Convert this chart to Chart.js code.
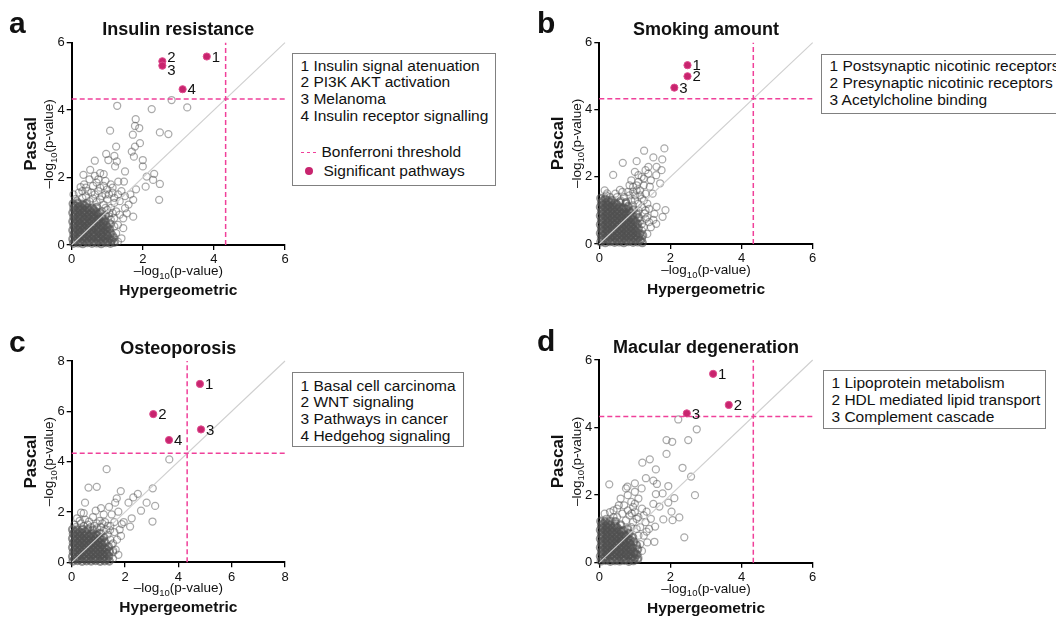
<!DOCTYPE html>
<html>
<head>
<meta charset="utf-8">
<script src="https://cdn.jsdelivr.net/npm/chart.js@4.4.0/dist/chart.umd.min.js"></script>
<style>
  body { margin: 0; background: #fff; width: 1056px; height: 617px; overflow: hidden; position: relative;
         font-family: "Liberation Sans", Arial, sans-serif; color: #111; }
  canvas { position: absolute; }
  .key { position: absolute; border: 1px solid #808080; background: #fff; font-size: 15.5px; box-sizing: border-box; }
  .key div { white-space: nowrap; position: absolute; left: 7.5px; }
  .dash { display: inline-block; width: 15px; height: 1.6px; vertical-align: middle; margin-right: 6px;
          background: repeating-linear-gradient(90deg, #f0409a 0 3.5px, transparent 3.5px 6px); }
  .dot { display: inline-block; width: 8px; height: 8px; border-radius: 50%; background: #c8246e;
         vertical-align: middle; margin: 0 11px 2px 4px; }
</style>
</head>
<body>
<canvas id="chartA" width="528" height="308" style="left:0;top:0"></canvas>
<canvas id="chartB" width="528" height="308" style="left:528px;top:0"></canvas>
<canvas id="chartC" width="528" height="308" style="left:0;top:308px"></canvas>
<canvas id="chartD" width="528" height="308" style="left:528px;top:308px"></canvas>

<div class="key" style="left:292px;top:53px;width:204px;height:133px">
  <div style="top:2.5px">1 Insulin signal atenuation</div>
  <div style="top:19.3px">2 PI3K AKT activation</div>
  <div style="top:36px">3 Melanoma</div>
  <div style="top:52.8px">4 Insulin receptor signalling</div>
  <div style="top:88.5px"><span class="dash"></span>Bonferroni threshold</div>
  <div style="top:107.8px"><span class="dot"></span>Significant pathways</div>
</div>
<div class="key" style="left:821px;top:54px;width:260px;height:60px">
  <div style="top:1.5px">1 Postsynaptic nicotinic receptors</div>
  <div style="top:18.8px">2 Presynaptic nicotinic receptors</div>
  <div style="top:36.3px">3 Acetylcholine binding</div>
</div>
<div class="key" style="left:292px;top:372px;width:172px;height:75px">
  <div style="top:3.5px">1 Basal cell carcinoma</div>
  <div style="top:20.2px">2 WNT signaling</div>
  <div style="top:36.8px">3 Pathways in cancer</div>
  <div style="top:53.5px">4 Hedgehog signaling</div>
</div>
<div class="key" style="left:823px;top:370px;width:223px;height:59px">
  <div style="top:3px">1 Lipoprotein metabolism</div>
  <div style="top:20.3px">2 HDL mediated lipid transport</div>
  <div style="top:37px">3 Complement cascade</div>
</div>

<script>
const FONT = '"Liberation Sans", Arial, sans-serif';

// Bonferroni threshold, -log10(p)
const bonferroni = 4.33;

// a: Insulin resistance
const insulinSig = [[3.8, 5.59], [2.55, 5.45], [2.55, 5.32], [3.12, 4.62]];
const insulinSigLabels = ['1', '2', '3', '4'];
const insulinOther = [
  [2.81, 4.3], [1.28, 4.13], [2.25, 4.03], [3.25, 4.08], [1.8, 3.73], [1.78, 3.53], [1.9, 3.47], [1.08, 3.39],
  [2.48, 3.34], [2.72, 3.29], [1.72, 3.27], [1.92, 3.02], [1.78, 2.92], [1.25, 2.92], [1.69, 2.77], [0.97, 2.7],
  [1.2, 2.64], [1.75, 2.62], [1.03, 2.52], [1.27, 2.48], [2.0, 2.52], [0.65, 2.5], [2.0, 2.33], [1.22, 2.33],
  [1.5, 2.18], [2.32, 2.11], [2.11, 2.03], [2.29, 1.93], [2.48, 1.81], [2.46, 1.34], [2.08, 1.73], [1.81, 1.65],
  [1.73, 1.34], [1.5, 1.09], [1.55, 0.94], [1.73, 0.84], [1.45, 0.79], [1.31, 1.88], [1.47, 1.88], [0.33, 2.08],
  [0.52, 2.23], [0.8, 2.13],
  [0.1, 1.36], [0.3, 1.4], [0.5, 1.3], [0.7, 1.27], [0.9, 1.2], [0.2, 1.55], [0.45, 1.6], [0.65, 1.5], [0.85, 1.45],
  [1.0, 1.35], [0.35, 1.8], [0.6, 1.75], [0.8, 1.7], [1.0, 1.65], [0.5, 1.95], [0.75, 1.95], [0.95, 1.9], [1.1, 1.8],
  [1.15, 1.55], [0.25, 1.72], [0.05, 1.5], [1.1, 1.1], [1.2, 1.25], [0.65, 2.05], [0.9, 2.1], [1.25, 0.35], [1.3, 0.6],
  [1.2, 0.8], [1.35, 0.9], [1.25, 1.0], [1.4, 0.2], [1.3, 0.1], [1.45, 0.5], [1.15, 0.95], [1.05, 0.95], [1.35, 1.3],
  [1.5, 1.45], [1.6, 1.2], [1.4, 1.6], [1.3, 1.5], [1.65, 1.5], [1.2, 1.4],
  [0.15, 1.3], [0.4, 1.45], [0.6, 1.38], [0.8, 1.35], [0.95, 1.5], [0.3, 1.6], [0.55, 1.55], [0.75, 1.6], [0.9, 1.75],
  [1.05, 1.5], [0.4, 1.7], [0.7, 1.85], [1.15, 1.7], [0.85, 1.0], [1.0, 1.05], [1.1, 0.75], [1.2, 0.55], [1.15, 0.3],
  [1.05, 0.85], [0.95, 1.1]
];
const insulinCore = [
  [0.05, 0.05], [0.18, 0.06], [0.31, 0.04], [0.44, 0.07], [0.57, 0.05], [0.7, 0.06], [0.83, 0.04], [0.96, 0.07], [1.09, 0.05], [1.2, 0.08],
  [0.03, 0.18], [0.16, 0.2], [0.29, 0.17], [0.42, 0.19], [0.55, 0.18], [0.68, 0.2], [0.81, 0.17], [0.94, 0.19], [1.07, 0.18], [1.18, 0.22],
  [0.06, 0.31], [0.19, 0.33], [0.32, 0.3], [0.45, 0.32], [0.58, 0.31], [0.71, 0.33], [0.84, 0.3], [0.97, 0.32], [1.1, 0.34],
  [0.03, 0.44], [0.16, 0.46], [0.29, 0.43], [0.42, 0.45], [0.55, 0.44], [0.68, 0.46], [0.81, 0.43], [0.94, 0.45], [1.07, 0.47],
  [0.06, 0.57], [0.19, 0.59], [0.32, 0.56], [0.45, 0.58], [0.58, 0.57], [0.71, 0.59], [0.84, 0.56], [0.97, 0.58], [1.08, 0.62],
  [0.03, 0.7], [0.16, 0.72], [0.29, 0.69], [0.42, 0.71], [0.55, 0.7], [0.68, 0.72], [0.81, 0.69], [0.94, 0.71],
  [0.06, 0.83], [0.19, 0.85], [0.32, 0.82], [0.45, 0.84], [0.58, 0.83], [0.71, 0.85], [0.84, 0.82], [0.95, 0.86],
  [0.03, 0.96], [0.16, 0.98], [0.29, 0.95], [0.42, 0.97], [0.55, 0.96], [0.68, 0.98], [0.8, 0.95],
  [0.06, 1.09], [0.19, 1.11], [0.32, 1.08], [0.45, 1.1], [0.58, 1.09], [0.7, 1.12],
  [0.04, 1.22], [0.17, 1.24], [0.3, 1.21], [0.42, 1.23],
  [0.1, 0.12], [0.23, 0.11], [0.36, 0.13], [0.49, 0.12], [0.62, 0.11], [0.75, 0.13], [0.88, 0.12], [1.01, 0.11], [1.13, 0.14],
  [0.1, 0.25], [0.23, 0.26], [0.36, 0.24], [0.49, 0.25], [0.62, 0.26], [0.75, 0.24], [0.88, 0.25], [1.01, 0.27],
  [0.1, 0.38], [0.23, 0.37], [0.36, 0.39], [0.49, 0.38], [0.62, 0.37], [0.75, 0.39], [0.88, 0.38], [1.0, 0.4],
  [0.1, 0.51], [0.23, 0.52], [0.36, 0.5], [0.49, 0.51], [0.62, 0.52], [0.75, 0.5], [0.88, 0.51], [1.0, 0.53],
  [0.1, 0.64], [0.23, 0.63], [0.36, 0.65], [0.49, 0.64], [0.62, 0.63], [0.75, 0.65], [0.88, 0.64],
  [0.1, 0.77], [0.23, 0.78], [0.36, 0.76], [0.49, 0.77], [0.62, 0.78], [0.75, 0.76], [0.88, 0.78],
  [0.1, 0.9], [0.23, 0.89], [0.36, 0.91], [0.49, 0.9], [0.62, 0.89], [0.74, 0.91],
  [0.1, 1.03], [0.23, 1.04], [0.36, 1.02], [0.49, 1.03], [0.62, 1.04],
  [0.1, 1.16], [0.23, 1.15], [0.36, 1.17]
];

// b: Smoking amount
const smokingSig = [[2.48, 5.33], [2.48, 5.0], [2.11, 4.66]];
const smokingSigLabels = ['1', '2', '3'];
const smokingOther = [
  [1.83, 2.85], [1.26, 2.78], [1.52, 2.58], [1.77, 2.52], [0.66, 2.42], [1.05, 2.47], [1.38, 2.3], [1.61, 2.3],
  [1.75, 2.2], [1.0, 2.15], [1.38, 2.1], [1.19, 2.0], [0.39, 2.06], [1.71, 1.81], [1.42, 1.71], [0.58, 1.61],
  [0.22, 1.51], [1.61, 1.11], [1.86, 1.01], [1.78, 0.81], [1.52, 0.72], [1.28, 0.91],
  [0.9, 1.9], [1.1, 1.85], [1.25, 1.75], [0.95, 1.7], [1.15, 1.6], [1.3, 1.5], [0.8, 1.55], [1.0, 1.45], [1.2, 1.35],
  [0.7, 1.4], [0.9, 1.3], [1.1, 1.2], [1.35, 1.2], [0.45, 1.5], [0.6, 1.3], [0.3, 1.4], [0.15, 1.6], [1.45, 1.9],
  [1.5, 1.5], [1.4, 1.05], [1.3, 0.75], [1.45, 0.5], [1.25, 0.5], [1.35, 0.3], [1.2, 0.15], [1.55, 0.9], [1.6, 0.6],
  [1.15, 0.7], [1.4, 0.65], [1.05, 1.75], [1.25, 1.95], [1.6, 2.05],
  [0.95, 1.55], [1.05, 1.6], [1.15, 1.45], [1.25, 1.3], [0.85, 1.45], [0.75, 1.25], [1.0, 1.3], [1.2, 1.1], [1.1, 1.0],
  [0.95, 1.15], [1.3, 1.0], [1.35, 0.8], [1.2, 0.6], [0.5, 1.4], [0.2, 1.45], [0.65, 1.55], [1.3, 2.2], [1.1, 2.05],
  [0.85, 1.75], [1.2, 0.4]
];
const smokingCore = [
  [0.04, 0.06], [0.17, 0.04], [0.3, 0.07], [0.43, 0.05], [0.56, 0.06], [0.69, 0.04], [0.82, 0.07], [0.95, 0.05], [1.08, 0.06], [1.21, 0.04],
  [0.06, 0.19], [0.19, 0.17], [0.32, 0.2], [0.45, 0.18], [0.58, 0.19], [0.71, 0.17], [0.84, 0.2], [0.97, 0.18], [1.1, 0.2], [1.22, 0.26],
  [0.03, 0.32], [0.16, 0.3], [0.29, 0.33], [0.42, 0.31], [0.55, 0.32], [0.68, 0.3], [0.81, 0.33], [0.94, 0.31], [1.07, 0.33],
  [0.06, 0.45], [0.19, 0.43], [0.32, 0.46], [0.45, 0.44], [0.58, 0.45], [0.71, 0.43], [0.84, 0.46], [0.97, 0.44], [1.1, 0.46],
  [0.03, 0.58], [0.16, 0.56], [0.29, 0.59], [0.42, 0.57], [0.55, 0.58], [0.68, 0.56], [0.81, 0.59], [0.94, 0.57], [1.07, 0.6],
  [0.06, 0.71], [0.19, 0.69], [0.32, 0.72], [0.45, 0.7], [0.58, 0.71], [0.71, 0.69], [0.84, 0.72], [0.97, 0.7], [1.1, 0.78],
  [0.03, 0.84], [0.16, 0.82], [0.29, 0.85], [0.42, 0.83], [0.55, 0.84], [0.68, 0.82], [0.81, 0.85], [0.94, 0.83], [1.05, 0.9],
  [0.06, 0.97], [0.19, 0.95], [0.32, 0.98], [0.45, 0.96], [0.58, 0.97], [0.71, 0.95], [0.84, 0.98], [0.96, 1.02],
  [0.03, 1.1], [0.16, 1.08], [0.29, 1.11], [0.42, 1.09], [0.55, 1.1], [0.68, 1.08], [0.81, 1.12],
  [0.06, 1.23], [0.19, 1.21], [0.32, 1.24], [0.45, 1.22], [0.58, 1.25], [0.75, 1.22],
  [0.04, 1.36], [0.17, 1.34], [0.35, 1.3],
  [0.1, 0.12], [0.24, 0.13], [0.37, 0.11], [0.5, 0.12], [0.63, 0.13], [0.76, 0.11], [0.89, 0.12], [1.02, 0.13], [1.15, 0.11],
  [0.1, 0.25], [0.24, 0.26], [0.37, 0.24], [0.5, 0.25], [0.63, 0.26], [0.76, 0.24], [0.89, 0.25], [1.02, 0.26], [1.14, 0.3],
  [0.1, 0.38], [0.24, 0.39], [0.37, 0.37], [0.5, 0.38], [0.63, 0.39], [0.76, 0.37], [0.89, 0.38], [1.02, 0.39],
  [0.1, 0.51], [0.24, 0.52], [0.37, 0.5], [0.5, 0.51], [0.63, 0.52], [0.76, 0.5], [0.89, 0.51], [1.02, 0.53],
  [0.1, 0.64], [0.24, 0.65], [0.37, 0.63], [0.5, 0.64], [0.63, 0.65], [0.76, 0.63], [0.89, 0.64], [1.02, 0.67],
  [0.1, 0.77], [0.24, 0.78], [0.37, 0.76], [0.5, 0.77], [0.63, 0.78], [0.76, 0.76], [0.89, 0.78],
  [0.1, 0.9], [0.24, 0.91], [0.37, 0.89], [0.5, 0.9], [0.63, 0.91], [0.76, 0.89], [0.88, 0.93],
  [0.1, 1.03], [0.24, 1.04], [0.37, 1.02], [0.5, 1.03], [0.63, 1.04], [0.75, 1.05],
  [0.1, 1.16], [0.24, 1.17], [0.37, 1.15], [0.5, 1.17],
  [0.1, 1.29], [0.25, 1.28]
];

// c: Osteoporosis
const osteoSig = [[4.81, 7.09], [3.06, 5.89], [4.85, 5.28], [3.65, 4.86]];
const osteoSigLabels = ['1', '2', '3', '4'];
const osteoOther = [
  [3.66, 4.09], [1.31, 3.7], [0.63, 2.97], [0.94, 3.0], [1.84, 2.83], [2.48, 2.72], [3.04, 2.94], [2.31, 2.58],
  [2.81, 2.37], [3.13, 2.24], [2.13, 2.37], [1.69, 2.54], [1.63, 2.37], [0.5, 2.37], [2.6, 2.05], [3.03, 1.62],
  [2.25, 1.75], [2.19, 1.42], [1.88, 1.52], [1.56, 0.46], [1.44, 1.28], [1.75, 2.01], [0.35, 1.97],
  [0.1, 1.5], [0.35, 1.55], [0.6, 1.5], [0.85, 1.45], [1.1, 1.4], [1.3, 1.3], [0.2, 1.75], [0.5, 1.7], [0.8, 1.8],
  [1.05, 1.65], [1.25, 1.6], [1.45, 1.45], [1.6, 1.2], [1.7, 0.9], [1.65, 0.5], [1.8, 1.3], [1.5, 1.9], [1.2, 1.9],
  [0.9, 2.05], [0.45, 1.95], [1.6, 1.6], [1.95, 1.6], [1.4, 2.2], [1.1, 2.15], [1.75, 0.3], [1.55, 0.75], [1.85, 1.05],
  [0.15, 1.4], [0.45, 1.45], [0.7, 1.4], [0.95, 1.35], [1.2, 1.25], [1.35, 1.1], [1.45, 0.9], [1.5, 0.7], [1.55, 0.4],
  [1.55, 0.15], [0.3, 1.65], [0.65, 1.62], [0.95, 1.55], [1.35, 1.45], [1.15, 1.55]
];
const osteoCore = [
  [0.05, 0.05], [0.22, 0.07], [0.39, 0.04], [0.56, 0.06], [0.73, 0.05], [0.9, 0.07], [1.07, 0.04], [1.24, 0.06], [1.41, 0.05],
  [0.03, 0.23], [0.2, 0.21], [0.37, 0.24], [0.54, 0.22], [0.71, 0.23], [0.88, 0.21], [1.05, 0.24], [1.22, 0.22], [1.39, 0.24],
  [0.06, 0.41], [0.23, 0.39], [0.4, 0.42], [0.57, 0.4], [0.74, 0.41], [0.91, 0.39], [1.08, 0.42], [1.25, 0.4], [1.42, 0.43],
  [0.03, 0.59], [0.2, 0.57], [0.37, 0.6], [0.54, 0.58], [0.71, 0.59], [0.88, 0.57], [1.05, 0.6], [1.22, 0.58], [1.38, 0.62],
  [0.06, 0.77], [0.23, 0.75], [0.4, 0.78], [0.57, 0.76], [0.74, 0.77], [0.91, 0.75], [1.08, 0.78], [1.25, 0.8],
  [0.03, 0.95], [0.2, 0.93], [0.37, 0.96], [0.54, 0.94], [0.71, 0.95], [0.88, 0.93], [1.05, 0.96], [1.2, 1.0],
  [0.06, 1.13], [0.23, 1.11], [0.4, 1.14], [0.57, 1.12], [0.74, 1.13], [0.91, 1.11], [1.06, 1.15],
  [0.03, 1.3], [0.2, 1.29], [0.4, 1.32], [0.6, 1.3], [0.8, 1.28],
  [0.13, 0.14], [0.3, 0.13], [0.47, 0.15], [0.64, 0.14], [0.81, 0.13], [0.98, 0.15], [1.15, 0.14], [1.32, 0.13],
  [0.13, 0.32], [0.3, 0.31], [0.47, 0.33], [0.64, 0.32], [0.81, 0.31], [0.98, 0.33], [1.15, 0.32], [1.32, 0.34],
  [0.13, 0.5], [0.3, 0.49], [0.47, 0.51], [0.64, 0.5], [0.81, 0.49], [0.98, 0.51], [1.15, 0.5], [1.3, 0.52],
  [0.13, 0.68], [0.3, 0.67], [0.47, 0.69], [0.64, 0.68], [0.81, 0.67], [0.98, 0.69], [1.15, 0.7],
  [0.13, 0.86], [0.3, 0.85], [0.47, 0.87], [0.64, 0.86], [0.81, 0.85], [0.98, 0.87], [1.12, 0.9],
  [0.13, 1.04], [0.3, 1.03], [0.47, 1.05], [0.64, 1.04], [0.81, 1.03], [0.96, 1.06],
  [0.13, 1.21], [0.3, 1.2], [0.5, 1.22]
];

// d: Macular degeneration
const macularSig = [[3.2, 5.59], [3.64, 4.67], [2.46, 4.42]];
const macularSigLabels = ['1', '2', '3'];
const macularOther = [
  [2.22, 4.24], [2.74, 3.95], [1.89, 3.63], [2.05, 3.58], [2.5, 3.63], [1.89, 3.22], [1.42, 3.06], [1.21, 2.96],
  [1.59, 2.76], [2.34, 2.81], [2.58, 2.55], [1.31, 2.5], [1.52, 2.43], [1.62, 2.33], [1.94, 2.27], [0.28, 2.32],
  [1.0, 2.35], [0.79, 2.25], [1.19, 2.2], [1.78, 2.05], [1.59, 2.03], [2.11, 1.91], [2.69, 2.0], [1.94, 1.78],
  [1.52, 1.74], [1.69, 1.66], [2.03, 1.51], [2.25, 1.34], [1.8, 1.28], [2.06, 1.26], [1.33, 1.51], [1.57, 1.07],
  [1.33, 0.92], [1.55, 0.62], [2.39, 0.75], [0.91, 1.46],
  [0.3, 1.5], [0.5, 1.6], [0.7, 1.7], [0.9, 1.8], [0.6, 1.9], [0.8, 2.0], [1.0, 2.1], [0.75, 2.2], [1.1, 1.9],
  [1.2, 1.6], [1.0, 1.5], [0.4, 1.35], [0.15, 1.45], [1.3, 1.2], [1.15, 1.05], [1.25, 0.8], [1.35, 0.6], [1.2, 0.35],
  [1.1, 0.15], [1.4, 1.0], [1.45, 1.3], [0.85, 1.4], [0.95, 1.65], [1.05, 1.3],
  [0.2, 1.3], [0.5, 1.35], [0.65, 1.45], [0.75, 1.25], [0.95, 1.2], [1.05, 1.0], [1.1, 0.8], [1.15, 0.55], [0.55, 1.7],
  [0.8, 1.55], [1.0, 1.75], [0.4, 1.55], [1.25, 1.4], [1.1, 1.35], [0.9, 1.05]
];
const macularCore = [
  [0.05, 0.05], [0.18, 0.07], [0.31, 0.04], [0.44, 0.06], [0.57, 0.05], [0.7, 0.07], [0.83, 0.04], [0.96, 0.06], [1.08, 0.1],
  [0.03, 0.19], [0.16, 0.17], [0.29, 0.2], [0.42, 0.18], [0.55, 0.19], [0.68, 0.17], [0.81, 0.2], [0.94, 0.18], [1.06, 0.24],
  [0.06, 0.32], [0.19, 0.3], [0.32, 0.33], [0.45, 0.31], [0.58, 0.32], [0.71, 0.3], [0.84, 0.33], [0.97, 0.31], [1.08, 0.4],
  [0.03, 0.45], [0.16, 0.43], [0.29, 0.46], [0.42, 0.44], [0.55, 0.45], [0.68, 0.43], [0.81, 0.46], [0.94, 0.44], [1.05, 0.52],
  [0.06, 0.58], [0.19, 0.56], [0.32, 0.59], [0.45, 0.57], [0.58, 0.58], [0.71, 0.56], [0.84, 0.59], [0.97, 0.62],
  [0.03, 0.71], [0.16, 0.69], [0.29, 0.72], [0.42, 0.7], [0.55, 0.71], [0.68, 0.69], [0.81, 0.72], [0.94, 0.75],
  [0.06, 0.84], [0.19, 0.82], [0.32, 0.85], [0.45, 0.83], [0.58, 0.84], [0.71, 0.82], [0.84, 0.87],
  [0.03, 0.97], [0.16, 0.95], [0.29, 0.98], [0.42, 0.96], [0.55, 0.97], [0.68, 0.95], [0.8, 1.0],
  [0.06, 1.1], [0.19, 1.08], [0.32, 1.11], [0.45, 1.09], [0.6, 1.12],
  [0.04, 1.23], [0.17, 1.21], [0.3, 1.24], [0.45, 1.22],
  [0.1, 0.12], [0.23, 0.13], [0.36, 0.11], [0.49, 0.12], [0.62, 0.13], [0.75, 0.11], [0.88, 0.12], [1.0, 0.14],
  [0.1, 0.25], [0.23, 0.26], [0.36, 0.24], [0.49, 0.25], [0.62, 0.26], [0.75, 0.24], [0.88, 0.25], [1.0, 0.28],
  [0.1, 0.38], [0.23, 0.39], [0.36, 0.37], [0.49, 0.38], [0.62, 0.39], [0.75, 0.37], [0.88, 0.38],
  [0.1, 0.51], [0.23, 0.52], [0.36, 0.5], [0.49, 0.51], [0.62, 0.52], [0.75, 0.5], [0.88, 0.53],
  [0.1, 0.64], [0.23, 0.65], [0.36, 0.63], [0.49, 0.64], [0.62, 0.65], [0.75, 0.63], [0.87, 0.67],
  [0.1, 0.77], [0.23, 0.78], [0.36, 0.76], [0.49, 0.77], [0.62, 0.78], [0.74, 0.78],
  [0.1, 0.9], [0.23, 0.91], [0.36, 0.89], [0.49, 0.9], [0.62, 0.92],
  [0.1, 1.03], [0.23, 1.04], [0.36, 1.02], [0.5, 1.04],
  [0.1, 1.16], [0.24, 1.15]
];

const toXY = arr => arr.map(p => ({ x: p[0], y: p[1] }));

function drawLogLabel(ctx, x, y) {
  const big = '13.5px ' + FONT, small = '9.5px ' + FONT;
  ctx.font = big;
  const w1 = ctx.measureText('\u2013log').width;
  const w3 = ctx.measureText('(p-value)').width;
  ctx.font = small;
  const w2 = ctx.measureText('10').width;
  const sx = x - (w1 + w2 + w3) / 2;
  ctx.textAlign = 'left';
  ctx.font = big;
  ctx.fillText('\u2013log', sx, y);
  ctx.font = small;
  ctx.fillText('10', sx + w1, y + 3.5);
  ctx.font = big;
  ctx.fillText('(p-value)', sx + w1 + w2, y);
}

function makePanel(id, cfg) {
  const area = cfg.area; // [left, top, right, bottom] of plot box in canvas px
  const Y_W = 24, X_H = 22;
  const max = cfg.max;

  const textPlugin = {
    id: 'panelText',
    afterDatasetsDraw(chart) {
      const ctx = chart.ctx;
      const meta = chart.getDatasetMeta(0);
      ctx.save();
      ctx.fillStyle = '#111';
      ctx.font = '15px ' + FONT;
      ctx.textAlign = 'left';
      ctx.textBaseline = 'middle';
      meta.data.forEach((pt, i) => {
        ctx.fillText(cfg.labels[i], pt.x + 5, pt.y + 1 + (cfg.nudge[i] || 0));
      });
      ctx.restore();
    },
    afterDraw(chart) {
      const ctx = chart.ctx;
      const ca = chart.chartArea;
      const cx = (ca.left + ca.right) / 2;
      const cy = (ca.top + ca.bottom) / 2;
      ctx.save();
      ctx.fillStyle = '#111';
      ctx.textBaseline = 'alphabetic';
      // panel letter
      ctx.font = 'bold 30px ' + FONT;
      ctx.textAlign = 'left';
      ctx.fillText(cfg.letter, 9, ca.top - 9.5);
      // title
      ctx.font = 'bold 18px ' + FONT;
      ctx.textAlign = 'center';
      ctx.fillText(cfg.title, cx, ca.top - 7.5);
      // x titles
      drawLogLabel(ctx, cx, ca.bottom + 30);
      ctx.font = 'bold 15.5px ' + FONT;
      ctx.textAlign = 'center';
      ctx.fillText('Hypergeometric', cx, ca.bottom + 50);
      // y titles
      ctx.save();
      ctx.translate(ca.left - 18.5, cy);
      ctx.rotate(-Math.PI / 2);
      drawLogLabel(ctx, 0, 0);
      ctx.restore();
      ctx.save();
      ctx.translate(ca.left - 36, cy);
      ctx.rotate(-Math.PI / 2);
      ctx.font = 'bold 17px ' + FONT;
      ctx.textAlign = 'center';
      ctx.fillText('Pascal', 0, 0);
      ctx.restore();
      ctx.restore();
    }
  };

  const axis = (fit) => ({
    type: 'linear', min: 0, max: max,
    ticks: { stepSize: 2, color: '#111', font: { size: 13, family: FONT }, padding: 2 },
    grid: { drawOnChartArea: false, drawTicks: true, tickLength: 5, color: '#000', lineWidth: 1.3 },
    border: { color: '#000', width: 2 },
    afterFit: fit
  });

  return new Chart(document.getElementById(id), {
    type: 'scatter',
    data: {
      datasets: [
        {
          data: toXY(cfg.sig), order: 0,
          pointRadius: 3.6, pointBackgroundColor: '#c8246e', pointBorderColor: '#de4c8e', pointBorderWidth: 1
        },
        {
          data: [{ x: 0, y: bonferroni }, { x: max, y: bonferroni }], order: 1,
          showLine: true, pointRadius: 0, borderColor: '#f0409a', borderWidth: 1.5, borderDash: [5, 3]
        },
        {
          data: [{ x: bonferroni, y: 0 }, { x: bonferroni, y: max }], order: 1,
          showLine: true, pointRadius: 0, borderColor: '#f0409a', borderWidth: 1.5, borderDash: [5, 3]
        },
        {
          data: [{ x: 0, y: 0 }, { x: max, y: max }], order: 2,
          showLine: true, pointRadius: 0, borderColor: '#cfcfcf', borderWidth: 1.1
        },
        {
          // scattered pathways
          data: toXY(cfg.other), order: 3,
          pointRadius: 3.5, pointBackgroundColor: 'rgba(0,0,0,0)',
          pointBorderColor: 'rgba(85,85,85,0.5)', pointBorderWidth: 1.25
        },
        {
          // densely overlapping pathways near the origin
          data: toXY(cfg.core), order: 4,
          pointRadius: 3.5, pointBackgroundColor: 'rgba(0,0,0,0)',
          pointBorderColor: 'rgba(80,80,80,0.6)', pointBorderWidth: 2.2
        }
      ]
    },
    options: {
      responsive: false,
      animation: false,
      clip: false,
      layout: { padding: { left: area[0] - Y_W, top: area[1], right: 528 - area[2], bottom: 308 - area[3] - X_H } },
      plugins: { legend: { display: false }, tooltip: { enabled: false } },
      scales: {
        x: axis(s => { s.height = X_H; }),
        y: axis(s => { s.width = Y_W; })
      }
    },
    plugins: [textPlugin]
  });
}

makePanel('chartA', { letter: 'a', title: 'Insulin resistance', max: 6, area: [71.7, 42.7, 285, 245],
  sig: insulinSig, labels: insulinSigLabels, nudge: [0, -4, 4, 0], other: insulinOther, core: insulinCore });
makePanel('chartB', { letter: 'b', title: 'Smoking amount', max: 6, area: [71.3, 42.7, 284.7, 244],
  sig: smokingSig, labels: smokingSigLabels, nudge: [0, 0, 0], other: smokingOther, core: smokingCore });
makePanel('chartC', { letter: 'c', title: 'Osteoporosis', max: 8, area: [71.7, 53, 285, 254.3],
  sig: osteoSig, labels: osteoSigLabels, nudge: [0, 0, 0, 0], other: osteoOther, core: osteoCore });
makePanel('chartD', { letter: 'd', title: 'Macular degeneration', max: 6, area: [71.3, 52, 284.7, 254.7],
  sig: macularSig, labels: macularSigLabels, nudge: [0, 0, 0], other: macularOther, core: macularCore });
</script>
</body>
</html>
